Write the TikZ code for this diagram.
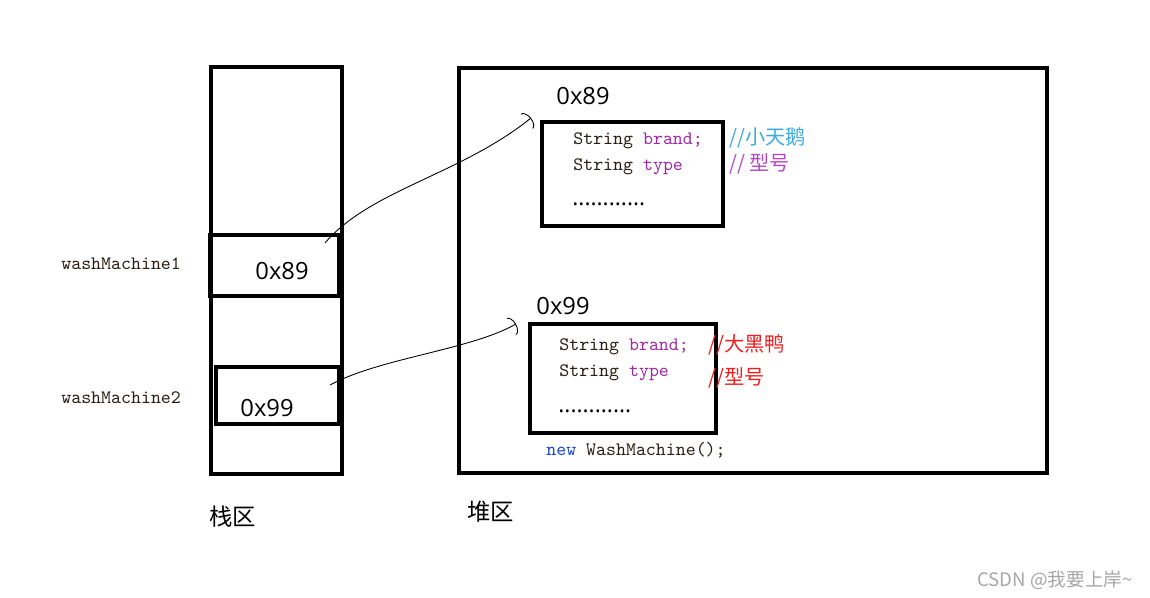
\documentclass[tikz,border=0pt]{standalone}
\usepackage{fontspec}
\setsansfont{Open Sans}
\newfontfamily\cjkfont{Noto Sans CJK SC}
\usetikzlibrary{arrows.meta}
\definecolor{kwpurple}{RGB}{160,40,165}
\definecolor{cmtblue}{RGB}{60,170,225}
\definecolor{cmtpurple}{RGB}{180,70,200}
\definecolor{cmtred}{RGB}{240,30,30}
\definecolor{newblue}{RGB}{25,70,200}
\definecolor{codedark}{RGB}{40,30,20}

\begin{document}
\begin{tikzpicture}[
  x=0.02cm,y=-0.02cm,
  >={Arc Barb[length=3pt,width=11pt]},
  membox/.style={draw,line width=2.2pt,inner sep=0pt},
  addr/.style={font=\sffamily\fontsize{13.5}{16}\selectfont,inner sep=0pt},
  code/.style={font=\ttfamily\fontsize{10.8}{13}\selectfont,text=codedark,anchor=west,inner sep=0pt},
  dots/.style={font=\sffamily\fontsize{13}{15}\selectfont,anchor=west,inner sep=0pt},
  cmt/.style={font=\cjkfont\fontsize{11.5}{13}\selectfont,anchor=west,inner sep=0pt},
  lab/.style={font=\cjkfont\fontsize{13.3}{16}\selectfont,anchor=west,inner sep=0pt},
  conn/.style={->,line width=0.5pt}
]
\useasboundingbox (0,0) rectangle (1150,598);

% stack
\node[membox,minimum width=2.62cm,minimum height=8.14cm] (stack) at (276.5,270.5) {};
\node[membox,minimum width=2.58cm,minimum height=1.22cm] (cell1) at (274.5,265.5) {};
\node[membox,minimum width=2.46cm,minimum height=1.14cm] (cell2) at (277.5,395.5) {};
\node[addr] (v1) at (282,271) {0x89};
\node[addr] (v2) at (267,408) {0x99};
\node[code,text=codedark] (n1) at (61,264) {washMachine1};
\node[code,text=codedark] (n2) at (61,398) {washMachine2};
\node[lab] (stacklab) at (209,517) {栈区};

% heap
\node[membox,minimum width=11.76cm,minimum height=8.1cm] (heap) at (753,270.5) {};
\node[lab] (heaplab) at (467,512) {堆区};

% object 0x89
\node[membox,minimum width=3.62cm,minimum height=2.08cm] (obj1) at (632.5,174) {};
\node[addr] (a1) at (583,96) {0x89};
\node[code] (b1) at (573,141) {String \textcolor{kwpurple}{brand;}};
\node[code] (t1) at (573,167) {String \textcolor{kwpurple}{type}};
\node[dots] (d1) at (572,204) {............};
\node[cmt,text=cmtblue] (c1) at (729,138) {//小天鹅};
\node[cmt,text=cmtpurple] (c2) at (729,164) {// 型号};

% object 0x99
\node[membox,minimum width=3.72cm,minimum height=2.18cm] (obj2) at (623,378.5) {};
\node[addr] (a2) at (563,306) {0x99};
\node[code] (b2) at (559,347) {String \textcolor{kwpurple}{brand;}};
\node[code] (t2) at (559,373) {String \textcolor{kwpurple}{type}};
\node[dots] (d2) at (558,411) {............};
\node[cmt,text=cmtred] (c3) at (708,345) {//大黑鸭};
\node[cmt,text=cmtred] (c4) at (708,378) {//型号};
\node[code] (nw) at (546,450) {\textcolor{newblue}{new} WashMachine();};

% references
\coordinate (p1) at (325,243);
\coordinate (q1) at (531,118);
\coordinate (p2) at (330,385);
\coordinate (q2) at (516,324);
\draw[conn] (p1) .. controls (370,190) and (460,175) .. (q1);
\draw[conn] (p2) .. controls (380,358) and (470,350) .. (q2);

\node[font=\cjkfont\fontsize{10.6}{12}\selectfont,text=black!35,anchor=west,inner sep=0pt] (wm) at (977,580) {CSDN @我要上岸\textasciitilde};
\end{tikzpicture}
\end{document}
